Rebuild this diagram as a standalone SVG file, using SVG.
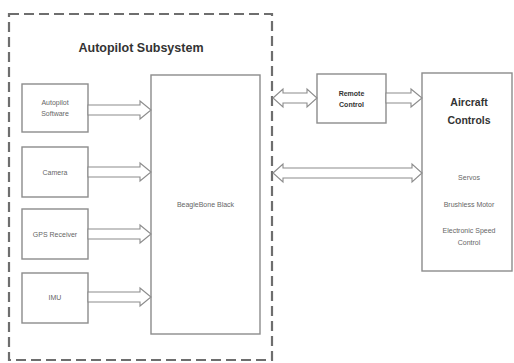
<svg xmlns="http://www.w3.org/2000/svg" width="514" height="363" viewBox="0 0 514 363">
<style>
.box{fill:#fff;stroke:#8c8c8c;stroke-width:1.4}
.arr{fill:#fff;stroke:#8c8c8c;stroke-width:1.1}
.t{font-family:"Liberation Sans",Arial,sans-serif;font-size:7px;fill:#666;text-anchor:middle}
.b{font-family:"Liberation Sans",Arial,sans-serif;font-weight:bold;fill:#333;text-anchor:middle}
</style>
<rect width="514" height="363" fill="#fff"/>
<g id="subsystem">
<rect x="9" y="14" width="263" height="346" fill="none" stroke="#6e6e6e" stroke-width="2.2" stroke-dasharray="10 5"/>
<text class="b" x="141" y="52" font-size="12.5">Autopilot Subsystem</text>
</g>
<g id="autopilot-software"><rect class="box" x="22" y="84" width="66" height="48"/><text class="t" x="55" y="105">Autopilot</text><text class="t" x="55" y="116">Software</text></g>
<g id="camera"><rect class="box" x="22" y="147" width="66" height="50"/><text class="t" x="55" y="174.5">Camera</text></g>
<g id="gps"><rect class="box" x="22" y="209" width="66" height="50"/><text class="t" x="55" y="236.5">GPS Receiver</text></g>
<g id="imu"><rect class="box" x="22" y="273" width="66" height="50"/><text class="t" x="55" y="300">IMU</text></g>
<g id="beaglebone"><rect class="box" x="151" y="75" width="109" height="259"/><text class="t" x="205.5" y="207" font-size="8.5">BeagleBone Black</text></g>
<g id="remote-control"><rect class="box" x="317" y="74" width="69" height="49"/><text class="b" x="351.5" y="96" font-size="7">Remote</text><text class="b" x="351.5" y="107" font-size="7">Control</text></g>
<g id="aircraft-controls"><rect class="box" x="422" y="73" width="90" height="198"/>
<text class="b" x="469" y="106" font-size="10.5">Aircraft</text><text class="b" x="469" y="124" font-size="10.5">Controls</text>
<text class="t" x="469" y="180">Servos</text><text class="t" x="469" y="206.5" font-size="7.5">Brushless Motor</text>
<text class="t" x="469" y="233" font-size="7.5">Electronic Speed</text><text class="t" x="469" y="245" font-size="7.5">Control</text></g>
<g id="connectors">
<path class="arr" d="M88,105 H140 V101 L151,110 L140,119 V115 H88 Z"/>
<path class="arr" d="M88,167 H140 V163 L151,172 L140,181 V177 H88 Z"/>
<path class="arr" d="M88,229 H140 V225 L151,234 L140,243 V239 H88 Z"/>
<path class="arr" d="M88,292 H140 V288 L151,297 L140,306 V302 H88 Z"/>
<path class="arr" d="M386,93 H411 V89 L422,98 L411,107 V103 H386 Z"/>
<path class="arr" d="M273,98 L283,89 V93 H307 V89 L317,98 L307,107 V103 H283 V107 Z"/>
<path class="arr" d="M273,173 L283,164 V168 H412 V164 L422,173 L412,182 V178 H283 V182 Z"/>
</g>
</svg>
